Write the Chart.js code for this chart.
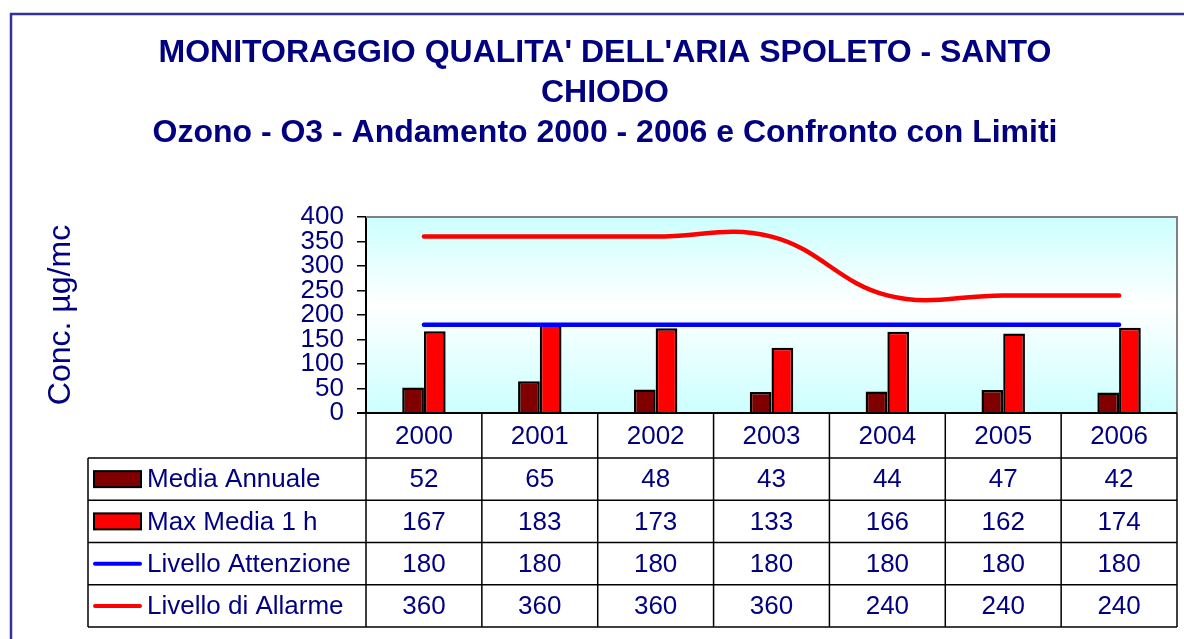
<!DOCTYPE html>
<html>
<head>
<meta charset="utf-8">
<script src="https://cdn.jsdelivr.net/npm/chart.js@4/dist/chart.umd.min.js"></script>
<style>
html,body{margin:0;padding:0;background:#fff;}
#wrap{width:1184px;height:639px;position:relative;}
</style>
</head>
<body>
<div id="wrap"><canvas id="c" width="1184" height="639"></canvas></div>
<script>
// ---- data ----
const categories = ['2000', '2001', '2002', '2003', '2004', '2005', '2006'];
const mediaAnnuale = [52, 65, 48, 43, 44, 47, 42];
const maxMedia1h = [167, 183, 173, 133, 166, 162, 174];
const livelloAttenzione = [180, 180, 180, 180, 180, 180, 180];
const livelloAllarme = [360, 360, 360, 360, 240, 240, 240];
const yTickValues = [0, 50, 100, 150, 200, 250, 300, 350, 400];
const seriesNames = ['Media Annuale', 'Max Media 1 h', 'Livello Attenzione', 'Livello di Allarme'];
const titleLines = ["MONITORAGGIO QUALITA' DELL'ARIA SPOLETO - SANTO", 'CHIODO', 'Ozono - O3 - Andamento 2000 - 2006 e Confronto con Limiti'];
const yAxisTitle = 'Conc. \u00b5g/mc';

// ---- styles ----
const FONT = "'Liberation Sans', Arial, sans-serif";
const NAVY = '#000080';

const framePlugin = {
  id: 'frame',
  beforeDraw(chart) {
    const ctx = chart.ctx;
    ctx.save();
    ctx.fillStyle = '#ffffff';
    ctx.fillRect(0, 0, chart.width, chart.height);
    ctx.strokeStyle = '#333399';
    ctx.lineWidth = 2.5;
    ctx.beginPath();
    ctx.moveTo(11, chart.height + 2);
    ctx.lineTo(11, 14);
    ctx.lineTo(chart.width + 2, 14);
    ctx.stroke();
    // plot area gradient
    const a = chart.chartArea;
    const g = ctx.createLinearGradient(0, a.top, 0, a.bottom);
    g.addColorStop(0, '#ccffff');
    g.addColorStop(0.45, '#ffffff');
    g.addColorStop(1, '#ccffff');
    ctx.fillStyle = g;
    ctx.fillRect(a.left, a.top, a.right - a.left, a.bottom - a.top);
    ctx.restore();
  }
};

const tablePlugin = {
  id: 'dataTable',
  afterDraw(chart) {
    const ctx = chart.ctx;
    const a = chart.chartArea;
    const xs = chart.scales.x;
    const n = categories.length;
    const step = (a.right - a.left) / n;
    const bounds = [];
    for (let i = 0; i <= n; i++) bounds.push(a.left + i * step);
    const headerBottom = 458;
    const rowH = 42.25;
    const tableLeft = 88;
    const rows = chart.data.datasets.length;
    const tableBottom = headerBottom + rows * rowH;

    ctx.save();
    // plot border (top/right grey)
    ctx.strokeStyle = '#808080';
    ctx.lineWidth = 2;
    ctx.beginPath();
    ctx.moveTo(a.left, a.top);
    ctx.lineTo(a.right, a.top);
    ctx.lineTo(a.right, a.bottom);
    ctx.stroke();

    // axis line bottom
    ctx.strokeStyle = '#000';
    ctx.lineWidth = 2;
    ctx.beginPath();
    ctx.moveTo(a.left - 9, a.bottom);
    ctx.lineTo(a.right, a.bottom);
    ctx.stroke();

    // table grid
    ctx.lineWidth = 1.5;
    ctx.strokeStyle = '#000';
    ctx.beginPath();
    for (let r = 0; r <= rows; r++) {
      const y = headerBottom + r * rowH;
      ctx.moveTo(tableLeft, y);
      ctx.lineTo(a.right, y);
    }
    bounds.forEach(b => { ctx.moveTo(b, a.bottom); ctx.lineTo(b, tableBottom); });
    ctx.moveTo(tableLeft, headerBottom);
    ctx.lineTo(tableLeft, tableBottom);
    ctx.stroke();

    // header labels
    ctx.fillStyle = NAVY;
    ctx.font = '26px ' + FONT;
    ctx.textAlign = 'center';
    ctx.textBaseline = 'middle';
    categories.forEach((c, i) => {
      ctx.fillText(c, xs.getPixelForValue(i), (a.bottom + headerBottom) / 2 + 1);
    });

    // rows
    chart.data.datasets.forEach((ds, r) => {
      const yc = headerBottom + r * rowH + rowH / 2 + 1;
      ds.data.forEach((v, i) => {
        ctx.fillStyle = NAVY;
        ctx.textAlign = 'center';
        ctx.fillText(String(v), xs.getPixelForValue(i), yc);
      });
      // legend key
      if (ds.type === 'line') {
        ctx.strokeStyle = ds.borderColor;
        ctx.lineWidth = 4;
        ctx.lineCap = 'round';
        ctx.beginPath();
        ctx.moveTo(95, yc - 1);
        ctx.lineTo(140, yc - 1);
        ctx.stroke();
      } else {
        ctx.fillStyle = ds.backgroundColor;
        ctx.fillRect(94, yc - 9, 47, 16);
        ctx.strokeStyle = '#000';
        ctx.lineWidth = 2;
        ctx.strokeRect(94, yc - 9, 47, 16);
      }
      ctx.fillStyle = NAVY;
      ctx.textAlign = 'left';
      ctx.fillText(ds.label, 147, yc);
    });
    ctx.restore();
  }
};

const ctx = document.getElementById('c').getContext('2d');
new Chart(ctx, {
  data: {
    labels: categories,
    datasets: [
      { type: 'bar', label: seriesNames[0], data: mediaAnnuale, backgroundColor: '#800000', borderColor: '#000000', borderWidth: 2.5, categoryPercentage: 0.375, barPercentage: 1, order: 2 },
      { type: 'bar', label: seriesNames[1], data: maxMedia1h, backgroundColor: '#ff0000', borderColor: '#000000', borderWidth: 2.5, categoryPercentage: 0.375, barPercentage: 1, order: 2 },
      { type: 'line', label: seriesNames[2], data: livelloAttenzione, borderColor: '#0000ff', backgroundColor: '#0000ff', borderWidth: 4.5, pointRadius: 0, tension: 0, borderCapStyle: 'round', borderJoinStyle: 'round', fill: false, order: 0 },
      { type: 'line', label: seriesNames[3], data: livelloAllarme, borderColor: '#ff0000', backgroundColor: '#ff0000', borderWidth: 4.5, pointRadius: 0, tension: 0.4, borderCapStyle: 'round', borderJoinStyle: 'round', fill: false, order: 0 }
    ]
  },
  options: {
    responsive: false,
    animation: false,
    devicePixelRatio: 1,
    layout: { padding: { left: 33, right: 7, top: 0, bottom: 226 } },
    plugins: {
      legend: { display: false },
      tooltip: { enabled: false },
      title: {
        display: true,
        text: titleLines,
        color: NAVY,
        font: { family: FONT, size: 32, weight: 'bold', lineHeight: 1.25 },
        padding: { top: 33.5, bottom: 63.5 }
      }
    },
    scales: {
      x: {
        type: 'category',
        display: false,
        offset: true
      },
      y: {
        min: 0,
        max: 400,
        afterFit(scale) { scale.width = 333; },
        afterBuildTicks(scale) { scale.ticks = yTickValues.map(v => ({ value: v })); },
        ticks: { color: NAVY, font: { family: FONT, size: 26 }, padding: 13, autoSkip: false },
        grid: { display: true, drawOnChartArea: false, drawTicks: true, tickLength: 9, color: '#000000', lineWidth: 1.5 },
        border: { display: true, color: '#000000', width: 2 },
        title: { display: true, text: yAxisTitle, color: NAVY, font: { family: FONT, size: 32 }, padding: { top: 9, bottom: 0 } }
      }
    }
  },
  plugins: [framePlugin, tablePlugin]
});
</script>
</body>
</html>
